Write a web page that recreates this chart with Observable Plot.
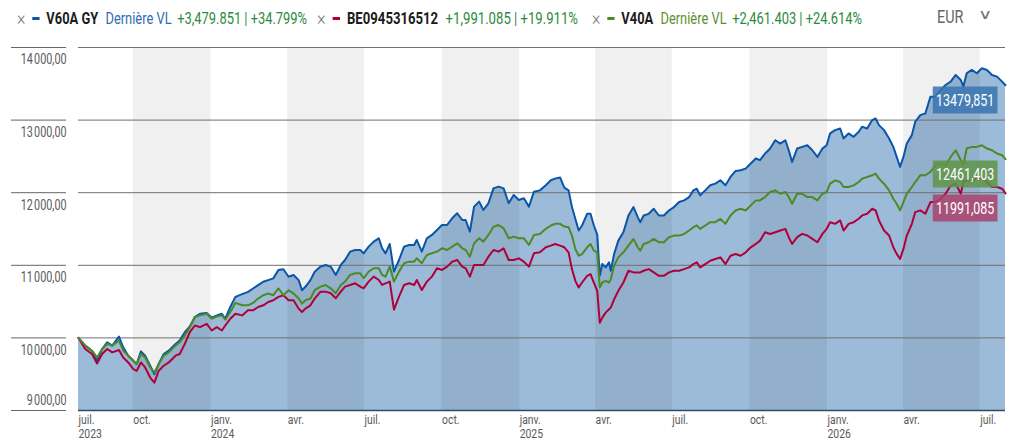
<!DOCTYPE html>
<html><head><meta charset="utf-8">
<script src="https://cdn.jsdelivr.net/npm/d3@7"></script>
<script src="https://cdn.jsdelivr.net/npm/@observablehq/plot@0.6"></script>
<style>
body{margin:0;background:#fff;font-family:Roboto,"Liberation Sans",sans-serif;}
#wrap{position:relative;width:1017px;height:446px;overflow:hidden}
#legend{position:absolute;left:0;top:0;width:1017px;height:35px;font-size:16px}
.item{position:absolute;top:8px;white-space:nowrap;display:flex;align-items:center;height:20px;transform-origin:0 50%}
.x{color:#777;font-size:20px;font-weight:300;margin-right:9px}
.dash{display:inline-block;width:9px;height:3px;margin-right:8px}
.name{font-weight:bold;color:#1b1b1b;margin-right:9px}
.lbl{margin-right:7px}
.val{color:#2c8a3c}
#cur{position:absolute;left:937px;top:6px;font-size:18px;color:#666;transform:scaleX(0.8);transform-origin:0 50%}
#chev{position:absolute;left:980px;top:6px;font-size:14px;font-weight:300;color:#777;transform:scaleX(1.4)}
#chart{position:absolute;left:0;top:35px}
</style>
</head><body>
<div id="wrap">
  <div id="legend"></div>
  <div id="cur">EUR</div>
  <div id="chev">&#8744;</div>
  <div id="chart"></div>
</div>
<script>
// ---- data ----
const seriesNames = ["V60A GY", "BE0945316512", "V40A"];
const seriesColors = ["#0a56a8", "#b0003a", "#4c8a26"];
const seriesLastLabel = ["Dernière VL", "", "Dernière VL"];
const seriesLabelColors = ["#2f6db3", "", "#5f8f2f"];
const seriesChange = ["+3,479.851 | +34.799%", "+1,991.085 | +19.911%", "+2,461.403 | +24.614%"];
const legendLeft = [17, 317, 592];
const legendRight = [307, 578, 862];
const endLabels = ["13479,851", "11991,085", "12461,403"];
const endLabelFills = ["#3a74b0", "#a9426b", "#5f9448"];

const dates = [
"2023-07-28","2023-08-05","2023-08-13","2023-08-19","2023-08-25","2023-08-31","2023-09-06","2023-09-14","2023-09-19","2023-09-25",
"2023-10-01","2023-10-05","2023-10-10","2023-10-15","2023-10-21","2023-10-26","2023-10-31","2023-11-06","2023-11-12","2023-11-20",
"2023-11-25","2023-12-01","2023-12-07","2023-12-13","2023-12-19","2023-12-27","2024-01-02","2024-01-08","2024-01-14","2024-01-18",
"2024-01-24","2024-01-30","2024-02-07","2024-02-14","2024-02-20","2024-02-26","2024-03-03","2024-03-09","2024-03-15","2024-03-21",
"2024-03-27","2024-04-02","2024-04-08","2024-04-14","2024-04-18","2024-04-22","2024-04-28","2024-05-03",
"2024-05-10","2024-05-16","2024-05-22","2024-05-28","2024-06-03","2024-06-08","2024-06-14","2024-06-20","2024-06-26","2024-06-30",
"2024-07-06","2024-07-12","2024-07-18","2024-07-22","2024-07-26","2024-07-31","2024-08-05","2024-08-11","2024-08-17","2024-08-23",
"2024-08-29","2024-09-01","2024-09-07","2024-09-13","2024-09-19","2024-09-25","2024-10-01","2024-10-07","2024-10-13","2024-10-19",
"2024-10-25","2024-10-29","2024-11-03","2024-11-08","2024-11-14","2024-11-19","2024-11-25","2024-12-01","2024-12-07","2024-12-13",
"2024-12-19","2024-12-25","2024-12-31","2025-01-06","2025-01-12","2025-01-18","2025-01-25",
"2025-02-01","2025-02-07","2025-02-12","2025-02-18","2025-02-23","2025-02-28","2025-03-04","2025-03-08","2025-03-12","2025-03-16",
"2025-03-22","2025-03-26","2025-03-30","2025-04-03","2025-04-06","2025-04-09","2025-04-13","2025-04-17","2025-04-19","2025-04-23",
"2025-04-28","2025-05-04","2025-05-10","2025-05-16","2025-05-21","2025-05-24","2025-05-28","2025-06-03","2025-06-09","2025-06-15",
"2025-06-21","2025-06-27","2025-07-03","2025-07-09","2025-07-15","2025-07-21","2025-07-26","2025-07-30","2025-08-03","2025-08-09",
"2025-08-15","2025-08-21","2025-08-27","2025-09-02","2025-09-08","2025-09-14","2025-09-20","2025-09-26","2025-10-02","2025-10-08",
"2025-10-13","2025-10-19","2025-10-25",
"2025-10-31","2025-11-06","2025-11-12","2025-11-16","2025-11-20","2025-11-26","2025-12-02","2025-12-08","2025-12-14","2025-12-20",
"2025-12-26","2025-12-31","2026-01-04","2026-01-10","2026-01-16","2026-01-20","2026-01-26","2026-02-01","2026-02-07","2026-02-11",
"2026-02-17","2026-02-23","2026-02-27","2026-03-03","2026-03-09","2026-03-15","2026-03-20","2026-03-24","2026-03-28","2026-04-01",
"2026-04-05","2026-04-11","2026-04-15","2026-04-21","2026-04-27","2026-05-03","2026-05-09","2026-05-15","2026-05-21","2026-05-27",
"2026-06-02","2026-06-08","2026-06-11","2026-06-15","2026-06-21","2026-06-27","2026-07-03","2026-07-09","2026-07-15","2026-07-21",
"2026-07-27","2026-07-31"
];

const v60a = [
10000,9894,9824,9685,9847,9940,9894,10019,9870,9755,
9685,9639,9815,9755,9616,9500,9639,9778,9824,9917,
9963,10079,10157,10287,10333,10343,10278,10310,10333,10264,
10426,10565,10602,10634,10681,10727,10773,10796,10820,10935,
10945,10843,10866,10796,10657,10704,10796,10912,
10982,11005,10982,10867,11005,11073,11188,11211,11211,11165,
11257,11326,11372,11234,11165,11294,10913,11073,11257,11280,
11280,11349,11188,11372,11418,11487,11555,11555,11647,11716,
11624,11624,11464,11808,11877,11762,11854,12060,12083,12060,
11854,11968,11900,11923,11808,12014,12032,
12102,12171,12194,12208,12069,12032,11802,11640,11479,11548,
11709,11709,11548,11423,10855,11017,10971,11040,10925,11155,
11340,11455,11686,11802,11663,11594,11686,11709,11778,11686,
11686,11755,11802,11871,11894,11940,12032,12055,11963,12032,
12102,12125,12171,12102,12217,12300,12309,12332,12402,12471,
12448,12540,12609,
12723,12677,12723,12585,12424,12608,12631,12654,12585,12493,
12608,12654,12816,12862,12885,12747,12816,12770,12839,12908,
12885,13000,13023,12931,12862,12747,12631,12493,12355,12493,
12677,12793,12977,13069,13092,13322,13322,13415,13484,13530,
13622,13553,13461,13645,13691,13645,13714,13691,13622,13599,
13530,13479.851
];

const be0945 = [
10000,9847,9778,9648,9778,9847,9801,9833,9731,9662,
9569,9546,9662,9593,9454,9384,9546,9616,9662,9755,
9778,9917,10079,10171,10148,10194,10102,10148,10102,10171,
10264,10333,10310,10380,10380,10426,10449,10495,10519,10565,
10588,10519,10519,10403,10357,10403,10449,10542,
10637,10637,10614,10546,10637,10706,10729,10752,10706,10683,
10775,10844,10798,10729,10752,10775,10390,10569,10729,10752,
10729,10798,10660,10775,10844,10959,10936,10982,11050,11073,
10982,10959,10844,11005,11005,11005,11119,11211,11188,11234,
11073,11073,11096,11050,10982,11165,11179,
11248,11271,11294,11271,11248,11179,10948,10786,10694,10763,
10855,10879,10763,10648,10209,10279,10348,10394,10417,10532,
10648,10763,10925,10902,10902,10902,10925,10948,10902,10855,
10855,10902,10925,10925,10948,10971,11017,11040,10971,11017,
11063,11086,11109,11017,11132,11155,11132,11179,11248,11294,
11340,11455,11432,
11456,11479,11502,11387,11295,11387,11433,11410,11364,11318,
11433,11502,11594,11571,11618,11479,11571,11594,11641,11687,
11710,11779,11756,11618,11479,11410,11249,11157,11088,11226,
11410,11571,11733,11756,11710,11871,11871,11917,11986,12101,
12124,11986,12147,12170,12170,12194,12194,12147,12078,12078,
12055,11991.085
];

const v40a = [
10000,9894,9824,9731,9847,9917,9894,9963,9824,9755,
9685,9639,9778,9731,9593,9523,9639,9755,9801,9894,
9940,10032,10148,10287,10310,10333,10264,10296,10310,10250,
10357,10482,10449,10449,10482,10542,10588,10611,10588,10681,
10588,10657,10611,10542,10472,10519,10542,10657,
10706,10729,10683,10614,10729,10775,10867,10890,10890,10821,
10913,10959,10959,10867,10844,10982,10775,10913,11028,11050,
11050,11096,11028,11142,11165,11188,11234,11211,11257,11303,
11234,11211,11119,11303,11372,11326,11418,11532,11555,11509,
11372,11395,11372,11372,11280,11418,11432,
11502,11548,11571,11571,11534,11525,11409,11225,11132,11155,
11248,11294,11202,11179,10694,10763,10786,10763,10809,10994,
11109,11179,11271,11363,11248,11202,11294,11317,11363,11317,
11317,11386,11409,11409,11432,11479,11525,11548,11502,11548,
11594,11594,11640,11571,11686,11755,11778,11755,11825,11894,
11894,11940,12009,
12032,11986,12009,11940,11848,11986,11986,11940,11940,11894,
11986,12009,12124,12170,12147,12078,12078,12101,12147,12194,
12217,12240,12263,12194,12124,12032,11917,11848,11756,11871,
11986,12078,12147,12240,12240,12286,12378,12401,12378,12493,
12585,12447,12378,12608,12631,12631,12654,12608,12585,12539,
12516,12461.403
];

const seriesValues = [v60a, be0945, v40a];

const yTicks = [9000, 10000, 11000, 12000, 13000, 14000];
const yTickLabels = ["9\u202F000,00", "10\u202F000,00", "11\u202F000,00", "12\u202F000,00", "13\u202F000,00", "14\u202F000,00"];

const xTickDates = ["2023-07-28","2023-10-01","2024-01-01","2024-04-01","2024-07-01","2024-10-01","2025-01-01","2025-04-01","2025-07-01","2025-10-01","2026-01-01","2026-04-01","2026-07-01"];
const xTickLabels = ["juil.\n2023","oct.","janv.\n2024","avr.","juil.","oct.","janv.\n2025","avr.","juil.","oct.","janv.\n2026","avr.","juil."];

const bandStarts = ["2023-10-01","2024-04-01","2024-10-01","2025-04-01","2025-10-01","2026-04-01"];
const bandEnds   = ["2024-01-01","2024-07-01","2025-01-01","2025-07-01","2026-01-01","2026-07-01"];

const domainStart = "2023-07-28";
const domainEnd = "2026-07-31";

// ---- legend ----
const legend = document.getElementById("legend");
seriesNames.forEach((n, i) => {
  const div = document.createElement("div");
  div.className = "item";
  div.style.left = legendLeft[i] + "px";
  div.innerHTML = `<span class="x">\u00D7</span><span class="dash" style="background:${seriesColors[i]}"></span>` +
    `<span class="name">${n}</span>` +
    (seriesLastLabel[i] ? `<span class="lbl" style="color:${seriesLabelColors[i]}">${seriesLastLabel[i]}</span>` : "") +
    `<span class="val">${seriesChange[i]}</span>`;
  legend.appendChild(div);
  const w = div.getBoundingClientRect().width;
  div.style.transform = `scaleX(${(legendRight[i] - legendLeft[i]) / w})`;
});

// ---- chart ----
const parse = d3.utcParse("%Y-%m-%d");
const long = [];
seriesNames.forEach((n, s) => dates.forEach((d, i) => long.push({date: parse(d), value: seriesValues[s][i], series: n})));
const blueRows = long.filter(r => r.series === seriesNames[0]);
const bands = bandStarts.map((s, i) => ({start: parse(s), end: parse(bandEnds[i])}));
const xt = xTickDates.map((d, i) => ({date: parse(d), label: xTickLabels[i]}));
const fmtY = d => yTickLabels[yTicks.indexOf(d)];
const lastRows = seriesNames.map((n, s) => ({date: parse(dates[dates.length - 1]), value: seriesValues[s][dates.length - 1], label: endLabels[s]}));

const font = 'Roboto,"Liberation Sans",sans-serif';

const tipMark = (s) => Plot.tip([lastRows[s]], {
  x: "date", y: "value", title: "label", anchor: "top-right",
  fill: endLabelFills[s], fillOpacity: 0.85, stroke: "none", pathFilter: "none",
  pointerSize: 0, textPadding: 4, fontSize: 16, lineHeight: 1, fontFamily: font,
  dx: -8, dy: 1
});

const plot = Plot.plot({
  width: 1017, height: 411,
  marginLeft: 78, marginRight: 12, marginTop: 12, marginBottom: 36,
  style: {fontFamily: font, background: "transparent", color: "#555"},
  x: {type: "utc", domain: [parse(domainStart), parse(domainEnd)], axis: null},
  y: {domain: [9000, 14000], axis: null},
  color: {domain: seriesNames, range: seriesColors},
  marks: [
    Plot.areaY(blueRows, {x: "date", y1: 9000, y2: "value", fill: "#9cbbd9", curve: "linear"}),
    Plot.rect(bands, {x1: "start", x2: "end", fill: "#000", fillOpacity: 0.058}),
    Plot.ruleY(yTicks.slice(1), {stroke: "#707070", strokeWidth: 1}),
    Plot.ruleY([yTicks[0]], {stroke: "#2f4b6b", strokeWidth: 1.5}),
    Plot.axisY(yTicks, {tickSize: 55, dx: -12, fill: "none", stroke: "#666", label: null}),
    Plot.axisY(yTicks.slice(1), {tickSize: 0, tickPadding: 12, dy: 12, tickFormat: fmtY, fill: "#5a5a5a", fontSize: 15, label: null}),
    Plot.axisY(yTicks.slice(0, 1), {tickSize: 0, tickPadding: 12, dy: -10, tickFormat: fmtY, fill: "#5a5a5a", fontSize: 15, label: null}),
    Plot.text(xt, {x: "date", text: "label", frameAnchor: "bottom", textAnchor: "start", lineAnchor: "top", dy: 3, lineHeight: 1.1, fill: "#5a5a5a", fontSize: 13}),
    Plot.lineY(long.filter(r => r.series === seriesNames[0]), {x: "date", y: "value", stroke: "series", strokeWidth: 2}),
    Plot.lineY(long.filter(r => r.series === seriesNames[1]), {x: "date", y: "value", stroke: "series", strokeWidth: 2}),
    Plot.lineY(long.filter(r => r.series === seriesNames[2]), {x: "date", y: "value", stroke: "series", strokeWidth: 2}),
    tipMark(0), tipMark(2), tipMark(1)
  ]
});
document.getElementById("chart").appendChild(plot);

// condensed look: squeeze axis texts horizontally around their anchors
const squeeze = (sel, k) => d3.select(plot).selectAll(sel).each(function() {
  const t = this.getAttribute("transform");
  if (t) this.setAttribute("transform", t + ` scale(${k},1)`);
  else {
    const x = +(this.getAttribute("x") || 0);
    this.setAttribute("transform", `translate(${x},0) scale(${k},1) translate(${-x},0)`);
  }
});
squeeze('g[aria-label="y-axis tick label"] text', 0.72);
squeeze('g[aria-label="text"] text', 0.8);
// tips: white text, squeezed toward the anchor
d3.select(plot).selectAll('g[aria-label="tip"] text, g[aria-label="tip"] tspan').attr("fill", "#fff");
d3.select(plot).selectAll('g[aria-label="tip"] > g').each(function() {
  const t = this.getAttribute("transform") || "";
  this.setAttribute("transform", t + " scale(0.78,1)");
});
</script>
</body></html>
